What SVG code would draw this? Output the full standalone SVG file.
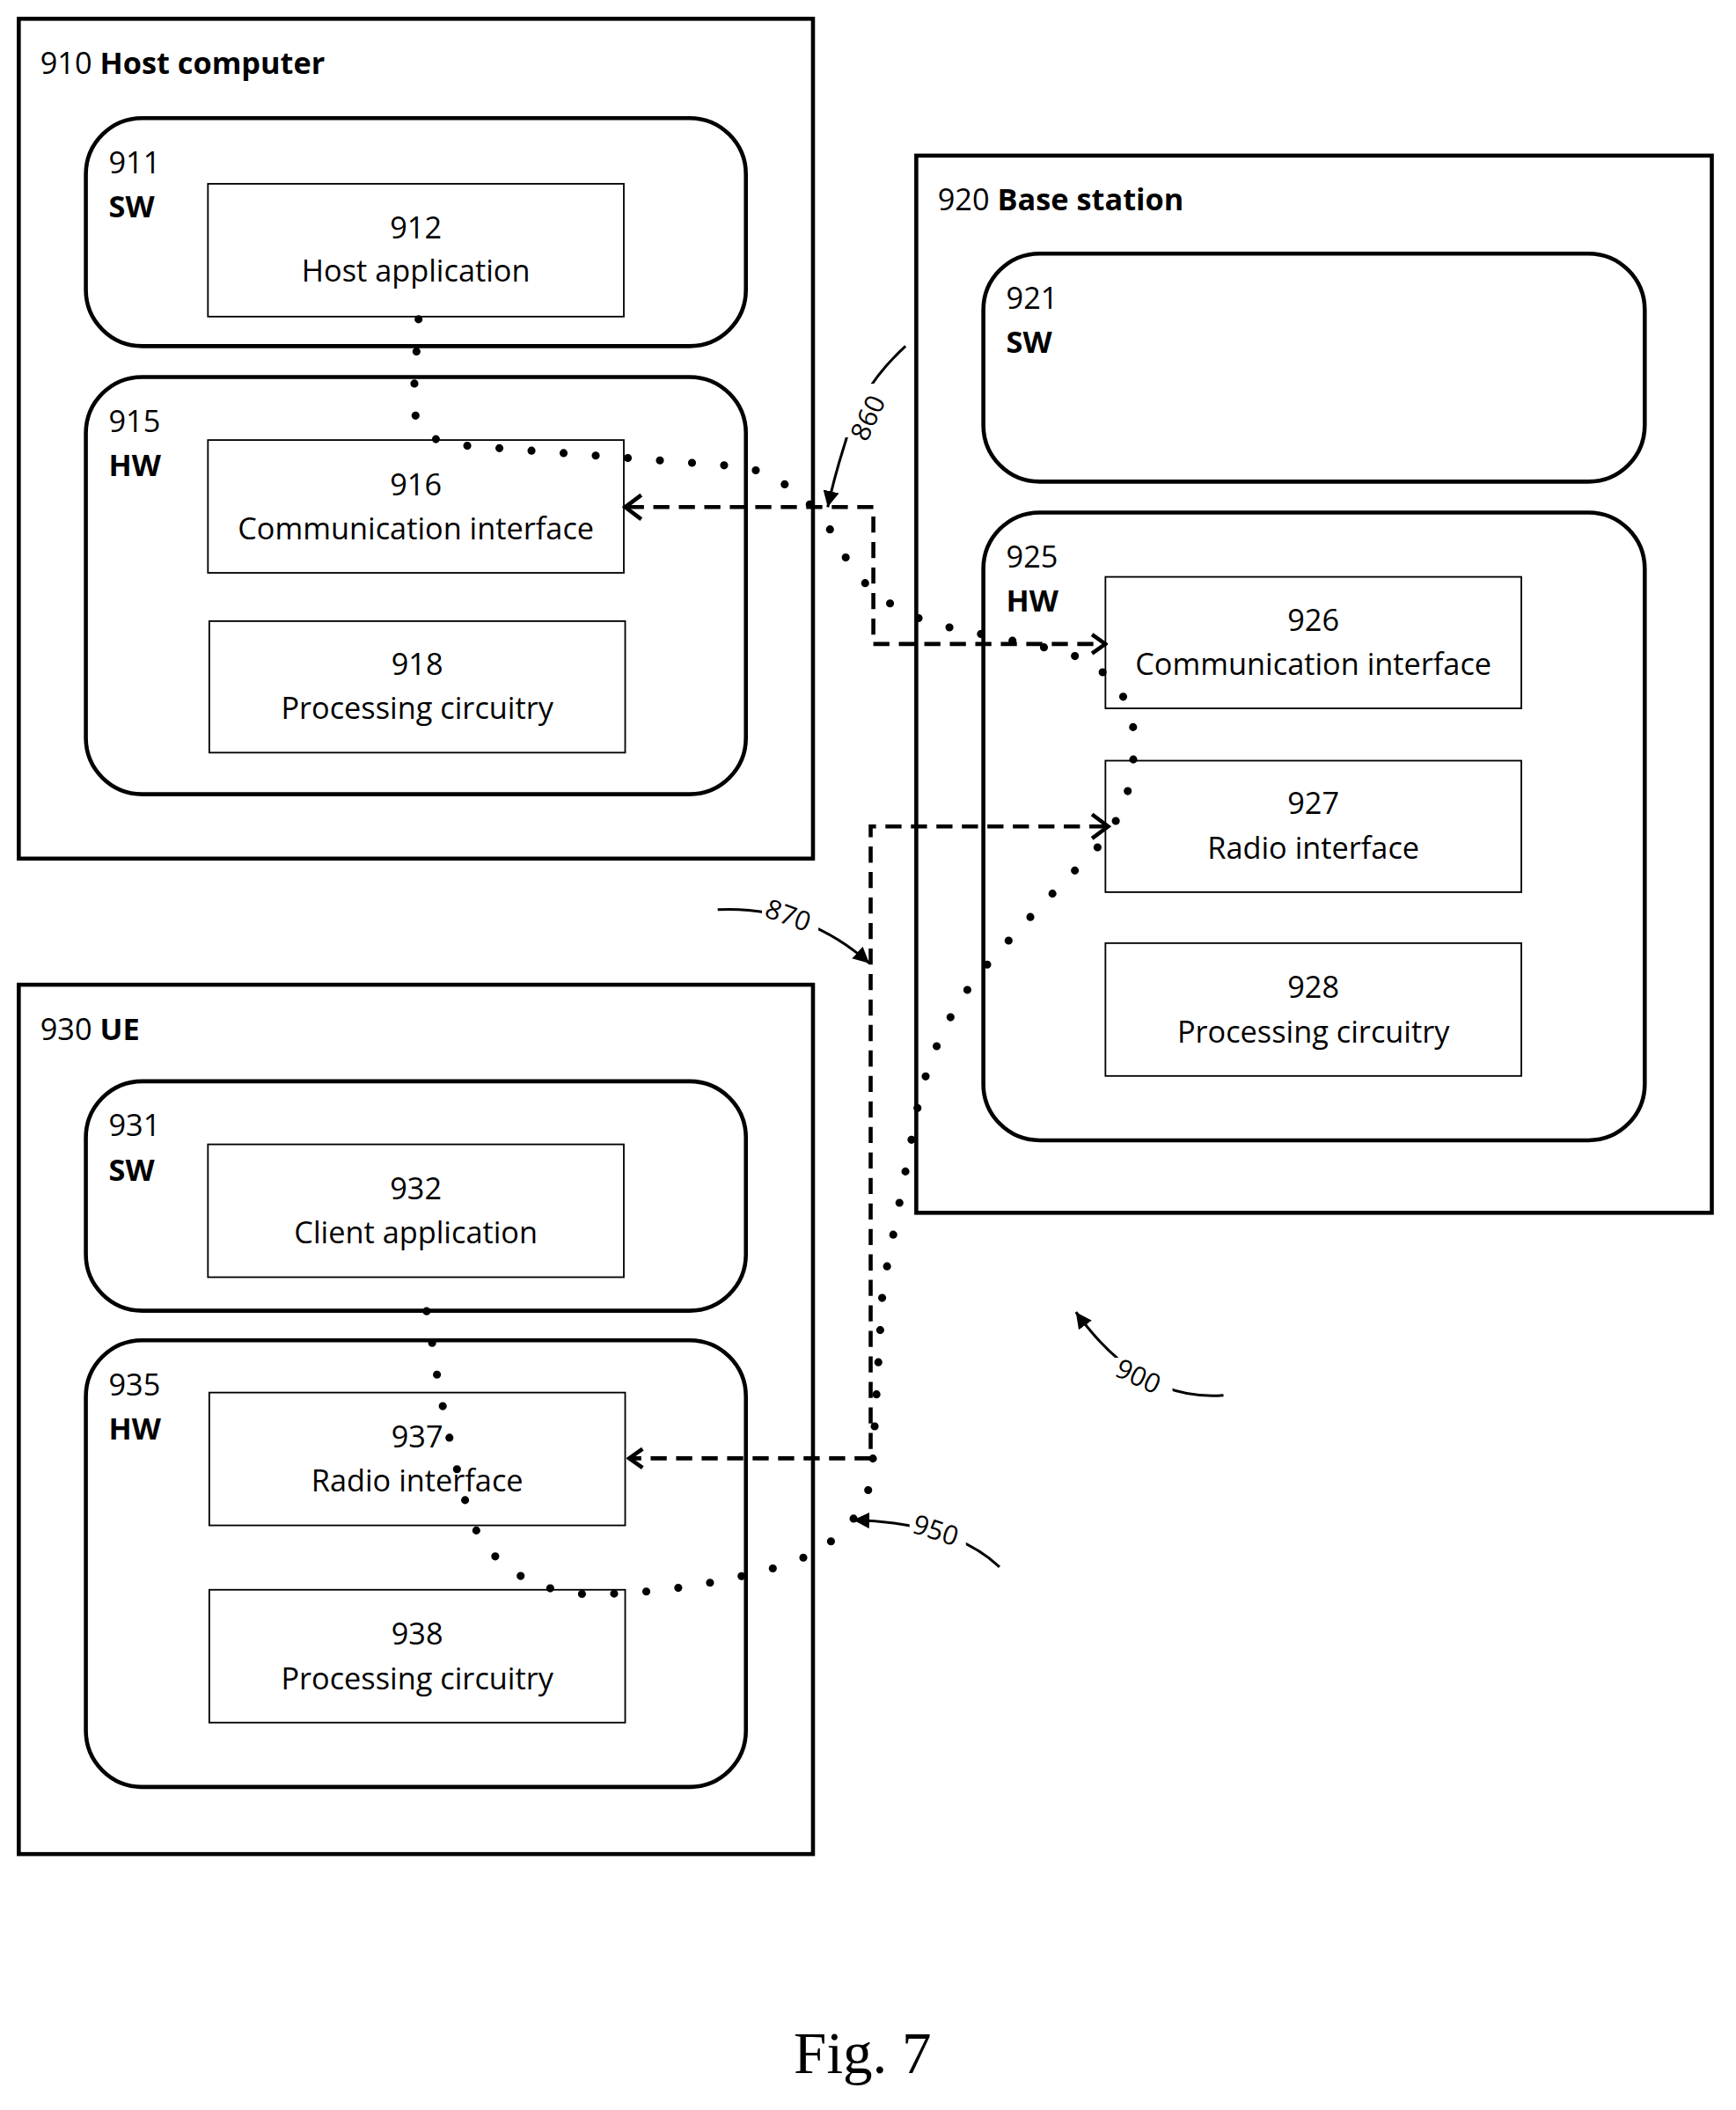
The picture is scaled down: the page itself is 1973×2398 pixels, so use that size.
<svg xmlns="http://www.w3.org/2000/svg" width="1973" height="2398" viewBox="0 0 1973 2398">
<defs>
<style>
.o{fill:#fff;stroke:#000;stroke-width:3}
.b{fill:#fff;stroke:#000;stroke-width:1.2}
.t{font-family:"Open Sans","Liberation Sans",sans-serif;font-size:22.5px;fill:#000}
.c{text-anchor:middle}
.bd{font-weight:bold}
.dash{fill:none;stroke:#000;stroke-width:3;stroke-dasharray:12,7}
.dot{fill:none;stroke:#000;stroke-width:6;stroke-linecap:round;stroke-dasharray:0,24}
.ln{fill:none;stroke:#000;stroke-width:2}
.sm{font-family:"Open Sans","Liberation Sans",sans-serif;font-size:20px;fill:#000}
</style>
<marker id="ch" markerWidth="14" markerHeight="18" refX="12" refY="9" orient="auto" markerUnits="userSpaceOnUse"><path d="M2,2 L12,9 L2,16" fill="none" stroke="#000" stroke-width="3"/></marker>
<marker id="ah" markerWidth="14" markerHeight="12" refX="12" refY="6" orient="auto" markerUnits="userSpaceOnUse"><path d="M0,0 L12,6 L0,12 Z" fill="#000"/></marker>
</defs>
<g transform="scale(1.5247)">
<g id="n910"><rect class="o" x="14" y="14" width="592" height="626"/><text class="t" x="30" y="55">910 <tspan class="bd">Host computer</tspan></text></g>
<g id="n911"><rect class="o" x="64" y="88" width="492" height="170" rx="42"/><text class="t" x="81" y="129">911</text><text class="t bd" x="81" y="162">SW</text></g>
<g id="n912"><rect class="b" x="155" y="137" width="310" height="99"/><text class="t c" x="310" y="178">912</text><text class="t c" x="310" y="210">Host application</text></g>
<g id="n915"><rect class="o" x="64" y="281" width="492" height="311" rx="42"/><text class="t" x="81" y="322">915</text><text class="t bd" x="81" y="355">HW</text></g>
<g id="n916"><rect class="b" x="155" y="328" width="310" height="99"/><text class="t c" x="310" y="369">916</text><text class="t c" x="310" y="402">Communication interface</text></g>
<g id="n918"><rect class="b" x="156" y="463" width="310" height="98"/><text class="t c" x="311" y="503">918</text><text class="t c" x="311" y="536">Processing circuitry</text></g>
<g id="n920"><rect class="o" x="683" y="116" width="593" height="788"/><text class="t" x="699" y="157">920 <tspan class="bd">Base station</tspan></text></g>
<g id="n921"><rect class="o" x="733" y="189" width="493" height="170" rx="42"/><text class="t" x="750" y="230">921</text><text class="t bd" x="750" y="263">SW</text></g>
<g id="n925"><rect class="o" x="733" y="382" width="493" height="468" rx="42"/><text class="t" x="750" y="423">925</text><text class="t bd" x="750" y="456">HW</text></g>
<g id="n926"><rect class="b" x="824" y="430" width="310" height="98"/><text class="t c" x="979" y="470">926</text><text class="t c" x="979" y="503">Communication interface</text></g>
<g id="n927"><rect class="b" x="824" y="567" width="310" height="98"/><text class="t c" x="979" y="607">927</text><text class="t c" x="979" y="640">Radio interface</text></g>
<g id="n928"><rect class="b" x="824" y="703" width="310" height="99"/><text class="t c" x="979" y="744">928</text><text class="t c" x="979" y="777">Processing circuitry</text></g>
<g id="n930"><rect class="o" x="14" y="734" width="592" height="648"/><text class="t" x="30" y="775">930 <tspan class="bd">UE</tspan></text></g>
<g id="n931"><rect class="o" x="64" y="806" width="492" height="171" rx="42"/><text class="t" x="81" y="847">931</text><text class="t bd" x="81" y="880">SW</text></g>
<g id="n932"><rect class="b" x="155" y="853" width="310" height="99"/><text class="t c" x="310" y="894">932</text><text class="t c" x="310" y="927">Client application</text></g>
<g id="n935"><rect class="o" x="64" y="999" width="492" height="333" rx="42"/><text class="t" x="81" y="1040">935</text><text class="t bd" x="81" y="1073">HW</text></g>
<g id="n937"><rect class="b" x="156" y="1038" width="310" height="99"/><text class="t c" x="311" y="1079">937</text><text class="t c" x="311" y="1112">Radio interface</text></g>
<g id="n938"><rect class="b" x="156" y="1185" width="310" height="99"/><text class="t c" x="311" y="1226">938</text><text class="t c" x="311" y="1259">Processing circuitry</text></g>
<g id="connectors">
<path class="dot" d="M312,238 L308,300 Q310,330 345,332 L555,348 Q600,360 625,405 Q645,450 700,466 L790,485 Q840,500 845,545 Q848,600 815,635 Q770,680 735,720 Q700,760 685,820 Q670,900 658,960 Q652,1060 650,1100 Q640,1150 580,1168 Q500,1190 430,1188 Q370,1180 350,1130 Q330,1060 322,1000 L316,966"/>
<path class="dash" d="M468,378 L651,378 L651,480 L824,480" marker-end="url(#ch)"/>
<path d="M478,369 L466,378 L478,387" fill="none" stroke="#000" stroke-width="3"/>
<path class="dash" d="M824,616 L649,616 L649,1087 L469,1087" marker-end="url(#ch)"/>
<path d="M814,607 L826,616 L814,625" fill="none" stroke="#000" stroke-width="3"/>
<path class="ln" d="M675,258 Q640,290 630,330 Q622,355 617,378" marker-end="url(#ah)"/>
<path class="ln" d="M535,678 Q600,675 648,718" marker-end="url(#ah)"/>
<path class="ln" d="M912,1040 Q850,1045 802,978" marker-end="url(#ah)"/>
<path class="ln" d="M745,1168 Q710,1135 636,1133" marker-end="url(#ah)"/>
</g>
<g id="labels">
<rect x="620" y="286" width="34" height="40" fill="#fff"/>
<text class="sm" x="0" y="0" transform="translate(646,330) rotate(-65)">860</text>
<rect x="568" y="674" width="42" height="24" fill="#fff"/>
<text class="sm" x="0" y="0" transform="translate(569,683) rotate(20)">870</text>
<rect x="830" y="1012" width="44" height="30" fill="#fff"/>
<text class="sm" x="0" y="0" transform="translate(830,1025) rotate(25)">900</text>
<rect x="678" y="1130" width="42" height="24" fill="#fff"/>
<text class="sm" x="0" y="0" transform="translate(679,1142) rotate(18)">950</text>
<text x="643" y="1545" text-anchor="middle" font-family="Liberation Serif,serif" font-size="44">Fig. 7</text>
</g>
</g>
</svg>
